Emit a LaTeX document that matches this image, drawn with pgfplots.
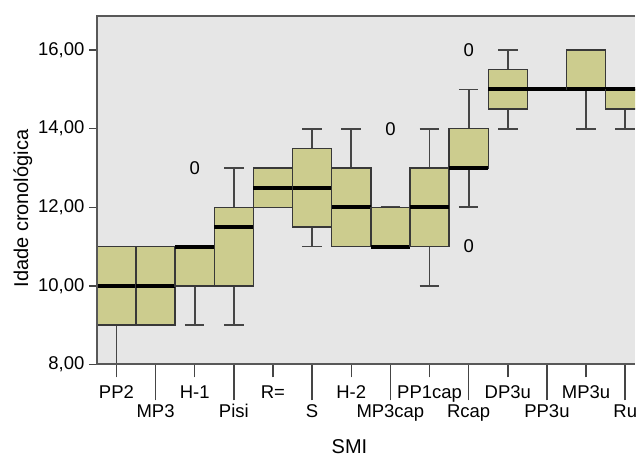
\documentclass[border=0pt]{standalone}
\usepackage{fontspec}
\setmainfont{Liberation Sans}
\usepackage{pgfplots}
\pgfplotsset{compat=1.18}
\usepgfplotslibrary{statistics}

\definecolor{panel}{HTML}{E6E6E6}
\definecolor{boxfill}{HTML}{CCCC8E}
\definecolor{boxedge}{HTML}{383838}
\definecolor{frame}{HTML}{585858}
\definecolor{whisk}{HTML}{454545}

\newcommand\tickfont{\fontsize{18.5pt}{20pt}\selectfont}
\newcommand\labfont{\fontsize{20pt}{22pt}\selectfont}

\begin{document}
\begin{tikzpicture}
\begin{axis}[
  name=main,
  at={(0,0)}, anchor=south west,
  x=39.2pt, y=39.35pt,
  xmin=-0.5, xmax=13.25,
  ymin=8, ymax=16.87,
  axis on top,
  axis background/.style={fill=panel},
  axis line style={draw=none},
  tick style={draw=whisk, line width=1.5pt},
  tick align=outside,
  xtick pos=bottom, ytick pos=left,
  major tick length=13pt,
  ytick=\empty,
  extra y ticks={8,10,12,14,16},
  extra y tick labels={{8,00},{10,00},{12,00},{14,00},{16,00}},
  extra y tick style={major tick length=8pt,
    yticklabel style={font=\tickfont, anchor=east, xshift=-1pt}},
  xtick={0,2,4,6,8,10,12},
  xticklabels={PP2,H-1,R=,H-2,PP1cap,DP3u,MP3u},
  xticklabel style={font=\tickfont, anchor=base, yshift=-21.6pt, overlay},
  extra x ticks={1,3,5,7,9,11,13},
  extra x tick labels={MP3,Pisi,S,MP3cap,Rcap,PP3u,Ru},
  extra x tick style={major tick length=36pt,
    xticklabel style={yshift=4.3pt}},
  xlabel={SMI},
  ylabel={Idade cronológica},
  every axis x label/.style={at={(axis description cs:0.4694,-0.236)}, anchor=center, font=\labfont},
  every axis y label/.style={at={(axis description cs:-0.1373,0.447)}, rotate=90, anchor=center, font=\labfont},
  boxplot/draw direction=y,
  boxplot/box extend=1,
  boxplot/whisker extend=0.5,
  boxplot/every box/.style={fill=boxfill, draw=boxedge, line width=1.4pt},
  boxplot/every whisker/.style={draw=whisk, line width=1.8pt},
  boxplot/every median/.style={draw=black, line width=4pt},
  % whiskers first, then the box over them, then the median bar
  boxplot/draw/.code={%
    \draw[/pgfplots/boxplot/every whisker/.try]
      (boxplot cs:\pgfplotsboxplotvalue{lower whisker}) -- (boxplot cs:\pgfplotsboxplotvalue{lower quartile})
      (boxplot cs:\pgfplotsboxplotvalue{upper quartile}) -- (boxplot cs:\pgfplotsboxplotvalue{upper whisker})
      (boxplot whisker cs:\pgfplotsboxplotvalue{lower whisker},0) -- (boxplot whisker cs:\pgfplotsboxplotvalue{lower whisker},1)
      (boxplot whisker cs:\pgfplotsboxplotvalue{upper whisker},0) -- (boxplot whisker cs:\pgfplotsboxplotvalue{upper whisker},1);
    \draw[/pgfplots/boxplot/every box/.try]
      (boxplot box cs:\pgfplotsboxplotvalue{lower quartile},0) rectangle (boxplot box cs:\pgfplotsboxplotvalue{upper quartile},1);
    \draw[/pgfplots/boxplot/every median/.try]
      (boxplot box cs:\pgfplotsboxplotvalue{median},0) -- (boxplot box cs:\pgfplotsboxplotvalue{median},1);
  },
]
% PP2
\addplot[boxplot prepared={draw position=0, lower whisker=8, lower quartile=9, median=10, upper quartile=11, upper whisker=11}] coordinates {};
% MP3
\addplot[boxplot prepared={draw position=1, lower whisker=9, lower quartile=9, median=10, upper quartile=11, upper whisker=11}] coordinates {};
% H-1
\addplot[boxplot prepared={draw position=2, lower whisker=9, lower quartile=10, median=11, upper quartile=11, upper whisker=11}] coordinates {};
% Pisi
\addplot[boxplot prepared={draw position=3, lower whisker=9, lower quartile=10, median=11.5, upper quartile=12, upper whisker=13}] coordinates {};
% R=
\addplot[boxplot prepared={draw position=4, lower whisker=12, lower quartile=12, median=12.5, upper quartile=13, upper whisker=13}] coordinates {};
% S
\addplot[boxplot prepared={draw position=5, lower whisker=11, lower quartile=11.5, median=12.5, upper quartile=13.5, upper whisker=14}] coordinates {};
% H-2
\addplot[boxplot prepared={draw position=6, lower whisker=11, lower quartile=11, median=12, upper quartile=13, upper whisker=14}] coordinates {};
% MP3cap
\addplot[boxplot prepared={draw position=7, lower whisker=11, lower quartile=11, median=11, upper quartile=12, upper whisker=12}] coordinates {};
% PP1cap
\addplot[boxplot prepared={draw position=8, lower whisker=10, lower quartile=11, median=12, upper quartile=13, upper whisker=14}] coordinates {};
% Rcap
\addplot[boxplot prepared={draw position=9, lower whisker=12, lower quartile=13, median=13, upper quartile=14, upper whisker=15}] coordinates {};
% DP3u
\addplot[boxplot prepared={draw position=10, lower whisker=14, lower quartile=14.5, median=15, upper quartile=15.5, upper whisker=16}] coordinates {};
% PP3u
\addplot[boxplot prepared={draw position=11, lower whisker=15, lower quartile=15, median=15, upper quartile=15, upper whisker=15}] coordinates {};
% MP3u
\addplot[boxplot prepared={draw position=12, lower whisker=14, lower quartile=15, median=15, upper quartile=16, upper whisker=16}] coordinates {};
% Ru
\addplot[boxplot prepared={draw position=13, lower whisker=14, lower quartile=14.5, median=15, upper quartile=15, upper whisker=15}] coordinates {};

% outlying cases, marked with their case label
\addplot[draw=none, mark=none, nodes near coords={0},
  every node near coord/.style={anchor=center, font=\tickfont, text=black}]
  coordinates {(2,13) (7,14) (9,16) (9,11)};
\end{axis}
% open frame: left, top and bottom sides
\draw[frame, line width=2pt]
  (main.north east) -- (main.north west) -- (main.south west) -- (main.south east);
% white margin round the plot
\path (-97pt,-90pt) rectangle (539pt,365pt);
\end{tikzpicture}
\end{document}
